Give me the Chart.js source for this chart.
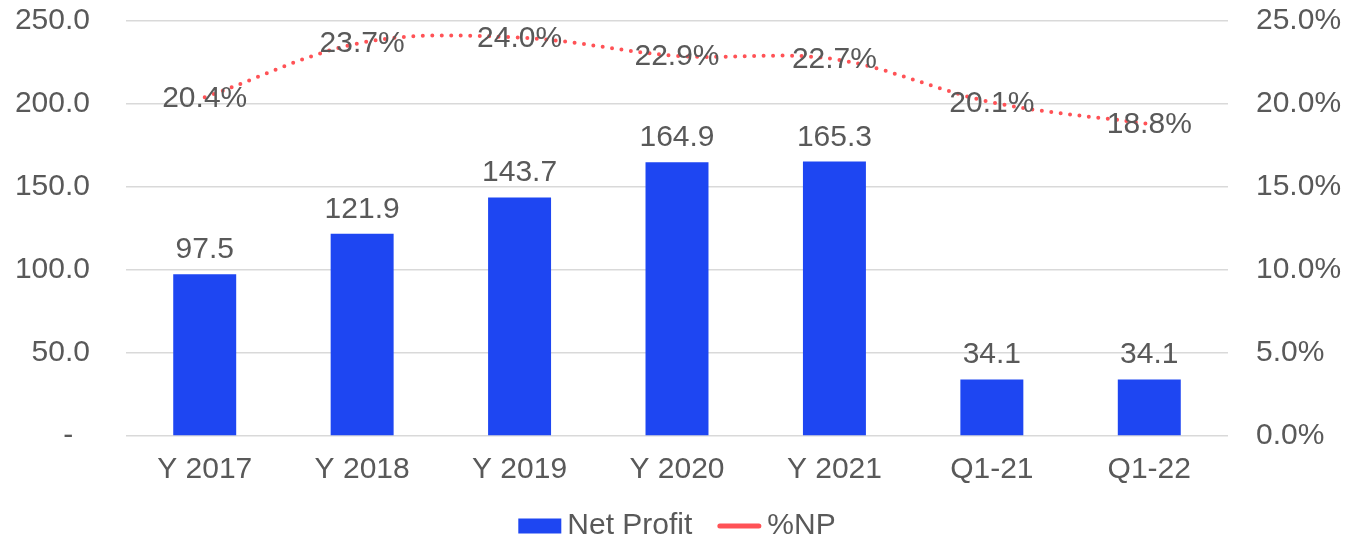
<!DOCTYPE html>
<html>
<head>
<meta charset="utf-8">
<script src="https://cdn.jsdelivr.net/npm/chart.js@4.4.1/dist/chart.umd.min.js"></script>
<style>
  html, body { margin: 0; padding: 0; background: #ffffff; }
  #wrap { width: 1345px; height: 540px; position: relative; }
</style>
</head>
<body>
<div id="wrap"><canvas id="chart"></canvas></div>
<script>
// chart data
const categories = ['Y 2017', 'Y 2018', 'Y 2019', 'Y 2020', 'Y 2021', 'Q1-21', 'Q1-22'];
const netProfit = [97.5, 121.9, 143.7, 164.9, 165.3, 34.1, 34.1];
const npPercent = [20.4, 23.7, 24.0, 22.9, 22.7, 20.1, 18.8];
const seriesNames = ['Net Profit', '%NP'];

const BLUE = '#1E46F2';
const RED = '#FF5256';
const TEXT = '#595959';
const FONT = "'Liberation Sans', Arial, sans-serif";

// draws value labels above bars and on line points
const valueLabels = {
    id: 'valueLabels',
    afterDatasetsDraw(chart) {
        const ctx = chart.ctx;
        ctx.save();
        ctx.font = '30px ' + FONT;
        ctx.fillStyle = TEXT;
        ctx.textAlign = 'center';

        const barMeta = chart.getDatasetMeta(0);
        ctx.textBaseline = 'alphabetic';
        barMeta.data.forEach((bar, i) => {
            ctx.fillText(netProfit[i].toFixed(1), bar.x, bar.y - 16);
        });

        const lineMeta = chart.getDatasetMeta(1);
        ctx.textBaseline = 'middle';
        lineMeta.data.forEach((pt, i) => {
            ctx.fillText(npPercent[i].toFixed(1) + '%', pt.x, pt.y + 1);
        });
        ctx.restore();
    }
};

// legend at the bottom, laid out like the office chart
const bottomLegend = {
    id: 'bottomLegend',
    afterDraw(chart) {
        const ctx = chart.ctx;
        const area = chart.chartArea;
        const y = 526;
        ctx.save();
        ctx.font = '30px ' + FONT;
        ctx.textBaseline = 'middle';
        ctx.textAlign = 'left';
        const w0 = ctx.measureText(seriesNames[0]).width;
        const w1 = ctx.measureText(seriesNames[1]).width;
        const total = 43 + 6 + w0 + 25 + 44 + 6 + w1;
        let x = (area.left + area.right) / 2 - total / 2;

        ctx.fillStyle = BLUE;
        ctx.fillRect(x, y - 7.5, 43, 15);
        x += 43 + 6;
        ctx.fillStyle = TEXT;
        ctx.fillText(seriesNames[0], x, y);
        x += w0 + 25;

        ctx.strokeStyle = RED;
        ctx.lineWidth = 5;
        ctx.lineCap = 'round';
        ctx.beginPath();
        ctx.moveTo(x + 2.5, y);
        ctx.lineTo(x + 41.5, y);
        ctx.stroke();
        x += 44 + 6;
        ctx.fillText(seriesNames[1], x, y);
        ctx.restore();
    }
};

// keep tick padding from pushing the plot area down
function fixWidth(w) {
    return scale => {
        scale.width = w;
        scale.paddingTop = 0;
        scale.paddingBottom = 0;
    };
}

Chart.defaults.font.family = FONT;
Chart.defaults.font.size = 30;
Chart.defaults.color = TEXT;

new Chart(document.getElementById('chart'), {
    type: 'bar',
    data: {
        labels: categories,
        datasets: [
            {
                type: 'bar',
                label: seriesNames[0],
                data: netProfit,
                backgroundColor: BLUE,
                yAxisID: 'y',
                categoryPercentage: 1,
                barPercentage: 0.4,
                order: 2
            },
            {
                type: 'line',
                label: seriesNames[1],
                data: npPercent,
                borderColor: RED,
                backgroundColor: RED,
                borderWidth: 4,
                borderDash: [0, 9.5],
                borderCapStyle: 'round',
                tension: 0.35,
                pointRadius: 0,
                yAxisID: 'y1',
                order: 1
            }
        ]
    },
    options: {
        responsive: true,
        maintainAspectRatio: false,
        animation: false,
        layout: { padding: { top: 21, left: 0, right: 0, bottom: 57 } },
        plugins: {
            tooltip: { enabled: false },
            legend: { display: false }
        },
        scales: {
            x: {
                grid: { display: false, drawTicks: false },
                border: { display: false },
                ticks: { padding: 16, color: TEXT, font: { size: 30 } },
                afterFit(scale) { scale.height = 47; }
            },
            y: {
                position: 'left',
                min: 0,
                max: 250,
                ticks: {
                    stepSize: 50,
                    padding: 36,
                    color: TEXT,
                    font: { size: 30 },
                    callback: v => v === 0 ? '-  ' : v.toFixed(1)
                },
                grid: { color: '#D9D9D9', lineWidth: 1.5, drawTicks: false },
                border: { display: false },
                afterFit: fixWidth(126)
            },
            y1: {
                position: 'right',
                min: 0,
                max: 25,
                ticks: {
                    stepSize: 5,
                    padding: 28,
                    color: TEXT,
                    font: { size: 30 },
                    callback: v => v.toFixed(1) + '%'
                },
                grid: { display: false, drawTicks: false },
                border: { display: false },
                afterFit: fixWidth(117)
            }
        }
    },
    plugins: [valueLabels, bottomLegend]
});
</script>
</body>
</html>
